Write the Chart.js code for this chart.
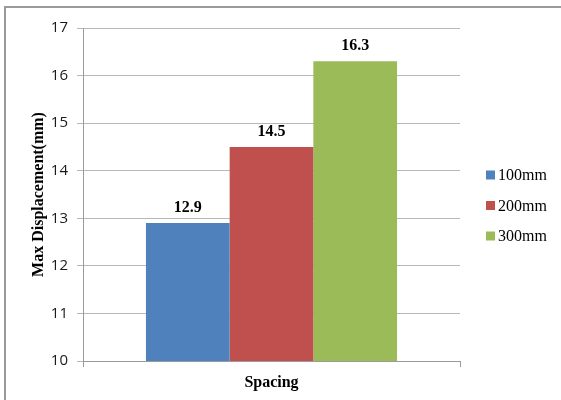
<!DOCTYPE html>
<html>
<head>
<meta charset="utf-8">
<script src="https://cdn.jsdelivr.net/npm/chart.js@4/dist/chart.umd.min.js"></script>
<style>
  html, body { margin: 0; padding: 0; background: #fff; }
  #wrap { position: relative; width: 561px; height: 400px; overflow: hidden; }
  #frame { position: absolute; left: 4px; top: 6px; width: 700px; height: 600px;
           border-left: 2px solid #9a9a9a; border-top: 2px solid #9a9a9a; }
  canvas { position: absolute; left: 0; top: 0; }
</style>
</head>
<body>
<div id="wrap">
  <div id="frame"></div>
  <canvas id="chart" width="561" height="400"></canvas>
</div>
<script>
// Maximum displacement for each spacing
const categories = ['Spacing'];
const seriesNames = ['100mm', '200mm', '300mm'];
const values100 = [12.9];
const values200 = [14.5];
const values300 = [16.3];
const seriesColors = ['#4F81BD', '#C0504D', '#9BBB59'];
const yTicks = [10, 11, 12, 13, 14, 15, 16, 17];
const yTitle = 'Max Displacement(mm)';
const xTitle = 'Spacing';

const serif = '"Liberation Serif", "Times New Roman", serif';
const sans = '"Open Sans", "Noto Sans", sans-serif';
const gridColor = '#b8b8b8';
const axisColor = '#9a9a9a';

// Bold value printed above each bar
const valueLabels = {
  id: 'valueLabels',
  afterDatasetsDraw(chart) {
    const ctx = chart.ctx;
    ctx.save();
    ctx.font = 'bold 16px ' + serif;
    ctx.fillStyle = '#000';
    ctx.textAlign = 'center';
    ctx.textBaseline = 'alphabetic';
    chart.data.datasets.forEach((ds, di) => {
      chart.getDatasetMeta(di).data.forEach((bar, i) => {
        ctx.fillText(ds.data[i].toFixed(1), bar.x, bar.y - 11);
      });
    });
    ctx.restore();
  }
};

// Series key to the right of the plot
const sideLegend = {
  id: 'sideLegend',
  afterDraw(chart) {
    const ctx = chart.ctx;
    const area = chart.chartArea;
    const x = area.right + 26;
    const rowGap = 30.5;
    const n = chart.data.datasets.length;
    const midY = (area.top + area.bottom) / 2 + 11;
    ctx.save();
    ctx.font = '16px ' + serif;
    ctx.textAlign = 'left';
    ctx.textBaseline = 'middle';
    chart.data.datasets.forEach((ds, i) => {
      const y = midY + (i - (n - 1) / 2) * rowGap;
      ctx.fillStyle = ds.backgroundColor;
      ctx.fillRect(x, y - 4.5, 9, 9);
      ctx.fillStyle = '#000';
      ctx.fillText(ds.label, x + 12, y + 1);
    });
    ctx.restore();
  }
};

const seriesData = [values100, values200, values300];

new Chart(document.getElementById('chart'), {
  type: 'bar',
  data: {
    labels: categories,
    datasets: seriesNames.map((name, i) => ({
      label: name,
      data: seriesData[i],
      backgroundColor: seriesColors[i],
      borderWidth: 0,
      categoryPercentage: 0.666,
      barPercentage: 1.0
    }))
  },
  options: {
    responsive: false,
    animation: false,
    devicePixelRatio: 1,
    layout: { padding: { left: 0, right: 101, top: 28, bottom: 0 } },
    plugins: {
      legend: { display: false },
      tooltip: { enabled: false }
    },
    scales: {
      x: {
        grid: { display: true, drawOnChartArea: false, drawTicks: true, tickLength: 6, color: axisColor },
        border: { display: true, color: axisColor, width: 1 },
        ticks: { display: false },
        title: {
          display: true, text: xTitle, color: '#000',
          font: { family: serif, size: 16, weight: 'bold' },
          padding: { top: 0, bottom: 8 }
        },
        afterFit(scale) { scale.height = 39; }
      },
      y: {
        min: yTicks[0],
        max: yTicks[yTicks.length - 1],
        grid: { color: gridColor, tickLength: 6, drawTicks: true },
        border: { display: true, color: axisColor, width: 1 },
        ticks: {
          stepSize: 1, padding: 9, color: '#1a1a1a',
          font: { family: sans, size: 15 },
          callback: (v) => yTicks.includes(v) ? String(v) : ''
        },
        title: {
          display: true, text: yTitle, color: '#000',
          font: { family: serif, size: 16, weight: 'bold' },
          padding: { top: 29, bottom: 0 }
        },
        afterFit(scale) { scale.width = 83; }
      }
    }
  },
  plugins: [valueLabels, sideLegend]
});
</script>
</body>
</html>
